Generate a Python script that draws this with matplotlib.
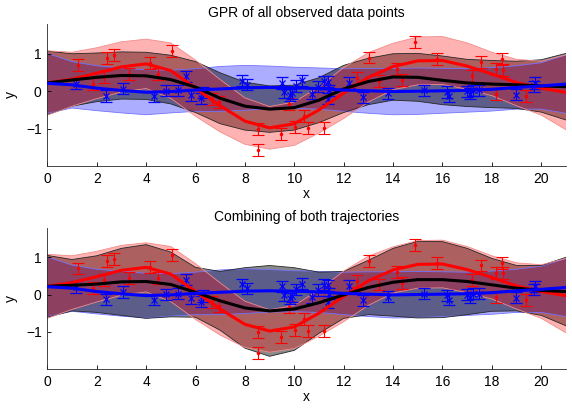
import numpy as np
import matplotlib
matplotlib.use('Agg')
from matplotlib import pyplot as plt

plt.rcParams['font.family'] = ['Liberation Sans', 'DejaVu Sans']
plt.rcParams['font.size'] = 10

# -----------------------------------------------------------------------------
# GP posterior curves on a unit grid (mean and 2-sigma half width)
xg = list(range(22))
red_mean = [0.22, 0.32, 0.48, 0.65, 0.73, 0.55, 0.08, -0.39, -0.80, -0.98, -0.87,
            -0.50, -0.05, 0.37, 0.66, 0.81, 0.82, 0.67, 0.46, 0.23, 0.08, -0.03]
red_hw = [0.86, 0.72, 0.68, 0.67, 0.66, 0.74, 0.75, 0.70, 0.62, 0.57, 0.58,
          0.62, 0.68, 0.66, 0.62, 0.64, 0.64, 0.62, 0.58, 0.62, 0.72, 1.00]
blue_mean = [0.21, 0.17, 0.08, 0.02, -0.03, -0.01, 0.03, 0.06, 0.09, 0.10, 0.09,
             0.07, 0.03, 0.01, -0.01, 0.00, 0.01, 0.02, 0.05, 0.10, 0.14, 0.19]
blue_hw = [0.80, 0.62, 0.60, 0.60, 0.60, 0.57, 0.57, 0.60, 0.60, 0.57, 0.55,
           0.55, 0.57, 0.60, 0.62, 0.62, 0.60, 0.58, 0.58, 0.58, 0.62, 0.78]
# GPR on all points together
all_mean = [0.22, 0.30, 0.37, 0.42, 0.41, 0.31, 0.11, -0.19, -0.40, -0.48, -0.44,
            -0.24, 0.06, 0.26, 0.38, 0.37, 0.29, 0.22, 0.19, 0.17, 0.14, 0.12]
all_hw = [0.85, 0.70, 0.65, 0.63, 0.63, 0.65, 0.68, 0.68, 0.64, 0.62, 0.60,
          0.60, 0.63, 0.62, 0.62, 0.64, 0.65, 0.63, 0.63, 0.63, 0.70, 0.89]
# combination of both trajectories
comb_mean = [0.22, 0.25, 0.28, 0.34, 0.35, 0.27, 0.06, -0.17, -0.36, -0.44, -0.39,
             -0.22, -0.01, 0.19, 0.33, 0.40, 0.40, 0.35, 0.26, 0.17, 0.11, 0.08]
comb_hw = [0.83, 0.69, 0.76, 0.90, 0.99, 0.87, 0.67, 0.79, 1.08, 1.22, 1.11,
           0.82, 0.63, 0.73, 0.91, 1.03, 1.02, 0.89, 0.71, 0.61, 0.67, 0.92]

# observations
red_x = [1.23, 1.86, 2.31, 2.40, 2.69, 3.32, 4.15, 4.49, 5.05, 6.65, 6.97,
         8.54, 8.54, 9.47, 9.78, 10.04, 10.39, 10.57, 11.19, 12.52, 13.04,
         13.43, 14.14, 14.38, 14.89, 15.77, 17.20, 17.55, 18.15, 18.15,
         18.42, 18.45, 19.39]
red_y = [0.70, 0.18, 0.38, 0.89, 0.96, 0.45, 0.75, 0.45, 1.07, -0.20, -0.30,
         -1.00, -1.57, -1.14, -0.33, -0.95, -0.66, -0.99, -0.99, 0.36, 0.90,
         0.27, 0.60, 0.31, 1.32, 0.85, 0.40, 0.78, -0.07, 0.58,
         0.85, 0.57, -0.14]
red_err = 0.16
blue_x = [1.16, 2.38, 3.08, 4.33, 4.81, 5.31, 5.60, 5.80, 6.22, 6.32, 7.87,
          8.07, 9.49, 9.58, 9.83, 9.92, 10.07, 10.30, 10.70, 10.96, 11.22,
          11.35, 11.38, 11.40, 12.23, 12.77, 13.80, 15.26, 16.18, 16.28,
          16.98, 17.13, 17.24, 17.49, 18.96, 19.70, 19.74]
blue_y = [0.20, -0.13, 0.07, -0.14, 0.01, 0.02, 0.40, -0.10, -0.19, -0.04, 0.28,
          0.17, 0.22, -0.02, -0.10, -0.05, 0.14, 0.29, -0.07, 0.12, 0.26,
          0.25, -0.20, 0.02, 0.23, -0.16, -0.06, 0.02, -0.02, -0.14,
          0.00, -0.07, 0.02, 0.02, -0.09, 0.13, 0.22]
blue_err = 0.15


def band(ax, mean, hw, color, alpha, edge):
    m, h = np.array(mean), np.array(hw)
    ax.fill_between(xg, m - h, m + h, facecolor=color, alpha=alpha,
                    edgecolor='none', zorder=1)
    ax.plot(xg, m + h, color=edge, lw=0.6, zorder=1.5)
    ax.plot(xg, m - h, color=edge, lw=0.6, zorder=1.5)


def panel(ax, k_mean, k_hw, title):
    band(ax, blue_mean, blue_hw, (0, 0, 1), 0.32, (0.45, 0.45, 1.0))
    band(ax, k_mean, k_hw, (0, 0, 0), 0.46, (0.15, 0.15, 0.15))
    band(ax, red_mean, red_hw, (1, 0, 0), 0.3, (0.95, 0.55, 0.55))
    ax.errorbar(red_x, red_y, yerr=red_err, fmt='o', ms=1.5, color='r',
                elinewidth=0.8, capsize=4, capthick=0.8, zorder=3)
    ax.errorbar(blue_x, blue_y, yerr=blue_err, fmt='x', ms=4.5, mew=0.9, color='b',
                elinewidth=0.8, capsize=4, capthick=0.8, zorder=3)
    ax.plot(xg, red_mean, color='r', lw=2.2, zorder=4)
    ax.plot(xg, k_mean, color='k', lw=2.2, zorder=4)
    ax.plot(xg, blue_mean, color='b', lw=2.2, zorder=4)
    ax.set_xlim(0, 21); ax.set_ylim(-2, 1.8)
    ax.set_xticks(range(0, 21, 2)); ax.set_yticks([-1, 0, 1])
    ax.tick_params(direction='in', length=3, width=0.6, pad=4, labelsize=10)
    for s in ['top', 'right']:
        ax.spines[s].set_visible(False)
    for s in ['left', 'bottom']:
        ax.spines[s].set_linewidth(0.6)
        ax.spines[s].set_color('0.15')
    ax.set_xlabel('x', labelpad=1); ax.set_ylabel('y', labelpad=6)
    ax.set_title(title, fontsize=10, pad=5)


fig = plt.figure(figsize=(5.72, 4.08), dpi=100)
ax1 = fig.add_axes([0.0827, 0.5931, 0.9068, 0.3485])
ax2 = fig.add_axes([0.0827, 0.0956, 0.9068, 0.3468])
panel(ax1, all_mean, all_hw, 'GPR of all observed data points')
panel(ax2, comb_mean, comb_hw, 'Combining of both trajectories')
fig.savefig('out.png', dpi=100)
